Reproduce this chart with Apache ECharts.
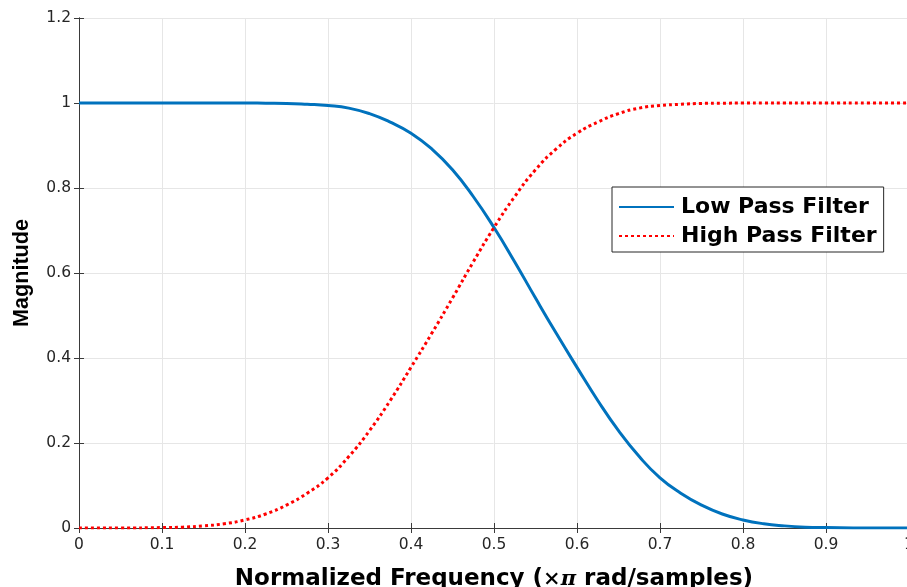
<!DOCTYPE html>
<html>
<head>
<meta charset="utf-8">
<script src="https://cdn.jsdelivr.net/npm/echarts@6/dist/echarts.min.js"></script>
<style>html,body{margin:0;padding:0;background:#fff}#c{width:907px;height:587px}</style>
</head>
<body>
<div id="c"></div>
<script>
// Normalized frequency (x pi rad/sample)
const freq = [0, 0.05, 0.1, 0.125, 0.15, 0.175, 0.2, 0.225, 0.25, 0.275, 0.3, 0.325, 0.35, 0.375, 0.4, 0.425, 0.45, 0.475, 0.5, 0.525, 0.55, 0.575, 0.6, 0.625, 0.65, 0.675, 0.7, 0.725, 0.75, 0.775, 0.8, 0.825, 0.85, 0.875, 0.9, 0.95, 1];
const lowPass = [1, 1, 1, 1, 1, 1, 1, 0.9995, 0.999, 0.997, 0.994, 0.988, 0.975, 0.955, 0.929, 0.892, 0.843, 0.78, 0.707, 0.626, 0.541, 0.458, 0.378, 0.3, 0.229, 0.168, 0.118, 0.082, 0.054, 0.033, 0.019, 0.01, 0.005, 0.002, 0.001, 0, 0];
const highPass = [0, 0, 0.001, 0.002, 0.005, 0.01, 0.019, 0.033, 0.054, 0.082, 0.118, 0.168, 0.229, 0.3, 0.378, 0.458, 0.541, 0.626, 0.707, 0.78, 0.843, 0.892, 0.929, 0.955, 0.975, 0.988, 0.994, 0.997, 0.999, 0.9995, 1, 1, 1, 1, 1, 1, 1];
const seriesNames = ['Low Pass Filter', 'High Pass Filter'];
const xTicks = [0, 0.1, 0.2, 0.3, 0.4, 0.5, 0.6, 0.7, 0.8, 0.9, 1];
const yTicks = [0, 0.2, 0.4, 0.6, 0.8, 1, 1.2];

const FONT = '"DejaVu Sans", sans-serif';
const FONT2 = '"Liberation Sans", Arial, Helvetica, sans-serif';
const AX = '#3a3a3a';
const chart = echarts.init(document.getElementById('c'), null, {renderer: 'canvas'});
const pairs = arr => freq.map((f, i) => [f, arr[i]]);
const axisCommon = {
  axisLine: {show: true, lineStyle: {color: AX, width: 1}},
  axisTick: {show: true, inside: true, length: 5, lineStyle: {color: AX, width: 1}}
};
chart.setOption({
  animation: false,
  backgroundColor: '#fff',
  grid: {left: 79, top: 18, width: 830, height: 510, containLabel: false, outerBoundsMode: 'none'},
  legend: {
    orient: 'vertical', left: 612, top: 187,
    data: seriesNames,
    itemWidth: 55, itemHeight: 12, itemGap: 7,
    padding: [9, 7, 5, 6],
    itemStyle: {opacity: 0},
    backgroundColor: '#fff', borderColor: '#262626', borderWidth: 1, borderRadius: 0,
    textStyle: {fontFamily: FONT, fontWeight: 'bold', fontSize: 22, color: '#000', lineHeight: 22, padding: [0, 0, 0, 2]}
  },
  xAxis: [{
    type: 'value', min: 0, max: 1, interval: 0.1, position: 'bottom',
    ...axisCommon,
    axisLabel: {fontFamily: FONT, fontSize: 15.5, color: '#262626', margin: 9,
      formatter: v => { const t = xTicks.find(x => Math.abs(x - v) < 1e-9); return t === undefined ? '' : String(t); }},
    splitLine: {show: true, lineStyle: {color: '#e6e6e6', width: 1}},
    name: 'Normalized Frequency ({m|×}{p|π} rad/samples)',
    nameLocation: 'middle', nameGap: 40,
    nameTextStyle: {fontFamily: FONT, fontWeight: 'bold', fontSize: 23, color: '#000',
      rich: {m: {fontFamily: '"DejaVu Serif", serif', fontSize: 21, color: '#000'},
             p: {fontFamily: '"DejaVu Serif", serif', fontStyle: 'italic', fontSize: 21, color: '#000'}}}
  }, {
    type: 'value', min: 0, max: 1, interval: 0.1, position: 'top',
    ...axisCommon, axisLabel: {show: false}, splitLine: {show: false}
  }],
  yAxis: [{
    type: 'value', min: 0, max: 1.2, interval: 0.2, position: 'left',
    ...axisCommon,
    axisLabel: {fontFamily: FONT, fontSize: 15.5, color: '#262626', margin: 8,
      formatter: v => { const t = yTicks.find(y => Math.abs(y - v) < 1e-9); return t === undefined ? '' : String(t); }},
    splitLine: {show: true, lineStyle: {color: '#e6e6e6', width: 1}},
    name: 'Magnitude', nameLocation: 'middle', nameGap: 46, nameRotate: 90,
    nameTextStyle: {fontFamily: FONT2, fontWeight: 'bold', fontSize: 21.6, color: '#000'}
  }, {
    type: 'value', min: 0, max: 1.2, interval: 0.2, position: 'right',
    ...axisCommon, axisLabel: {show: false}, splitLine: {show: false}
  }],
  series: [{
    name: seriesNames[0], type: 'line', data: pairs(lowPass), smooth: 0.5,
    symbol: 'none', lineStyle: {color: '#0072BD', width: 3}, itemStyle: {color: '#0072BD'}
  }, {
    name: seriesNames[1], type: 'line', data: pairs(highPass), smooth: 0.5,
    symbol: 'none', lineStyle: {color: '#FF0000', width: 3, type: [3, 3]}, itemStyle: {color: '#FF0000'}
  }]
});
</script>
</body>
</html>
